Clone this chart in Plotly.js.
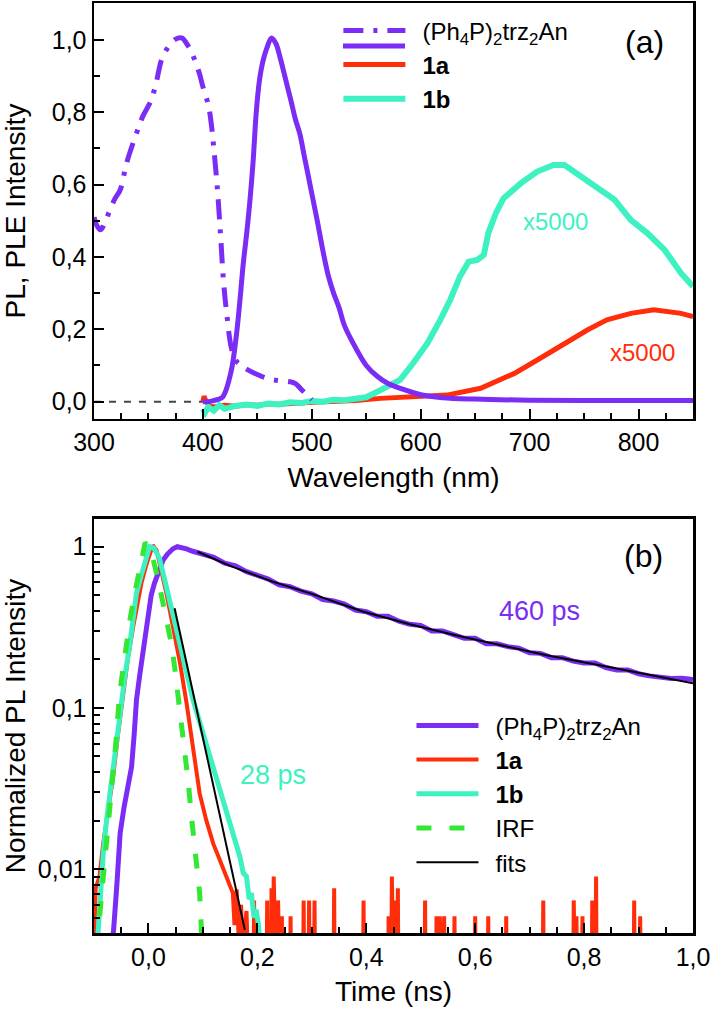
<!DOCTYPE html>
<html><head><meta charset="utf-8">
<script src="https://cdn.plot.ly/plotly-3.0.1.min.js"></script>
<style>html,body{margin:0;padding:0;background:#fff}</style>
</head><body><div id="chart" style="width:713px;height:1013px"></div>
<script>
// ---------- Panel (a): PL / PLE spectra ----------
const wlPLE = [300,303,306,310,314,319,324,330,339,345,352,357,362,367,372,377,381,385,389,393,397,400,405,408,410,413,416,419,422,426,430,435,440,450,460,470,480,485,490,495,500];
const ple   = [0.51,0.485,0.475,0.495,0.525,0.56,0.585,0.66,0.742,0.79,0.83,0.88,0.945,0.975,0.995,1.005,1.005,0.99,0.97,0.94,0.905,0.87,0.82,0.76,0.70,0.60,0.47,0.33,0.24,0.15,0.115,0.10,0.09,0.075,0.063,0.058,0.055,0.05,0.035,0.02,0.005];

const wlPL = [400,405,410,414,418,421,424,427,431,434,437,440,443,446,449,452,455,459,463,467,471,476,481,485,489,493,497,500,505,510,515,520,525,530,540,550,560,570,580,590,600,620,650,700,750,800,850];
const pl   = [0.0,0.0,0.003,0.006,0.012,0.03,0.06,0.10,0.19,0.28,0.38,0.46,0.55,0.66,0.80,0.89,0.94,0.98,1.005,0.99,0.95,0.89,0.83,0.78,0.74,0.68,0.62,0.575,0.50,0.42,0.35,0.30,0.26,0.21,0.15,0.10,0.07,0.05,0.038,0.028,0.019,0.011,0.007,0.004,0.003,0.003,0.003];

const wl1b = [400,402,405,410,415,420,430,440,450,460,470,480,490,500,510,520,530,540,550,563,572,581,593,606,618,627,636,644,652,658,662,669,676,692,707,722,732,747,762,778,793,808,824,839,850];
const pl1b = [-0.02,-0.03,-0.015,-0.025,-0.01,-0.02,-0.012,-0.008,-0.012,-0.005,-0.008,-0.002,-0.004,0.002,0.0,0.005,0.004,0.008,0.012,0.032,0.045,0.06,0.106,0.161,0.226,0.281,0.346,0.387,0.392,0.406,0.466,0.521,0.562,0.604,0.636,0.654,0.654,0.622,0.594,0.558,0.502,0.466,0.419,0.355,0.318];

const wl1a = [400,401,403,406,410,420,430,440,450,460,470,480,490,500,520,540,563,590,624,655,686,707,732,753,771,793,814,839,850];
const pl1a = [0.0,0.015,0.0,-0.012,-0.015,-0.01,-0.013,-0.008,-0.01,-0.006,-0.007,-0.004,-0.004,-0.002,0.0,0.003,0.009,0.012,0.018,0.037,0.078,0.115,0.161,0.198,0.226,0.244,0.254,0.244,0.235];

const zeroX = [300,400];
const zeroY = [0,0];

// ---------- Panel (b): PL decays ----------
const tPh = [-0.07,-0.064,-0.058,-0.052,-0.045,-0.038,-0.031,-0.026,-0.022,-0.016,-0.01,-0.006,0.0,0.005,0.011,0.018,0.027,0.035,0.045,0.053,0.062,0.07,0.08,0.09,
  0.10,0.12,0.14,0.16,0.18,0.20,0.22,0.24,0.26,0.28,0.30,0.32,0.34,0.36,0.38,0.40,0.42,0.44,0.46,0.48,0.50,0.52,0.54,0.56,0.58,0.60,0.62,0.64,0.66,0.68,0.70,0.72,0.74,0.76,0.78,0.80,0.82,0.84,0.86,0.88,0.90,0.92,0.94,0.96,0.98,1.00];
const yPh = [0.003,0.0042,0.008,0.0167,0.024,0.032,0.043,0.07,0.112,0.16,0.22,0.29,0.40,0.50,0.593,0.70,0.827,0.90,0.97,1.0,0.99,0.97,0.94,0.92,
  0.91,0.86,0.79,0.76,0.70,0.67,0.63,0.58,0.565,0.53,0.51,0.47,0.46,0.44,0.405,0.395,0.37,0.37,0.345,0.33,0.325,0.30,0.30,0.285,0.27,0.27,0.25,0.25,0.24,0.235,0.22,0.218,0.205,0.205,0.195,0.19,0.19,0.178,0.172,0.172,0.163,0.158,0.155,0.152,0.153,0.15];

const t1a = [-0.1,-0.097,-0.09,-0.083,-0.075,-0.065,-0.056,-0.047,-0.038,-0.028,-0.02,-0.013,-0.004,0.003,0.008,0.015,0.024,0.033,0.045,0.057,0.07,0.082,0.094,0.106,0.119,0.131,0.143,0.155,0.158,0.162,0.166,0.17,0.174,0.18,0.184];
const y1a = [0.003,0.0076,0.009,0.0145,0.022,0.037,0.068,0.123,0.2,0.319,0.45,0.593,0.77,0.92,1.02,0.95,0.7,0.514,0.319,0.198,0.107,0.0548,0.0295,0.0202,0.0144,0.0114,0.009,0.0071,0.0045,0.0075,0.0035,0.006,0.003,0.0055,0.002];
// sparse photon-count spikes of 1a at long delays (time, height)
const spikeT = [0.194,0.218,0.226,0.230,0.238,0.245,0.261,0.285,0.295,0.305,0.341,0.395,0.441,0.447,0.453,0.458,0.508,0.529,0.535,0.543,0.562,0.600,0.624,0.657,0.725,0.781,0.786,0.797,0.815,0.822,0.892,0.903];
const spikeH = [0.0064,0.0064,0.0076,0.009,0.0064,0.0051,0.0051,0.0064,0.0064,0.0064,0.0076,0.0064,0.0051,0.009,0.0064,0.0076,0.0064,0.0051,0.0051,0.0051,0.0051,0.0051,0.0051,0.0051,0.0064,0.0064,0.0051,0.0051,0.0064,0.009,0.0064,0.0051];

const t1b = [-0.095,-0.09,-0.083,-0.077,-0.071,-0.062,-0.053,-0.043,-0.034,-0.028,-0.022,-0.014,-0.007,0.002,0.01,0.02,0.03,0.045,0.055,0.064,0.073,0.082,0.091,0.1,0.11,0.119,0.128,0.137,0.146,0.155,0.162,0.168,0.174,0.18,0.185,0.189,0.194,0.198,0.202,0.205];
const y1b = [0.003,0.006,0.0126,0.02,0.0295,0.052,0.097,0.16,0.251,0.36,0.514,0.65,0.79,1.0,0.98,0.85,0.62,0.368,0.27,0.198,0.15,0.112,0.088,0.0695,0.055,0.043,0.034,0.0268,0.021,0.0167,0.0135,0.0119,0.0095,0.009,0.0065,0.0071,0.005,0.0056,0.0045,0.003];

const tIRF = [-0.1,-0.0926,-0.086,-0.08,-0.074,-0.068,-0.06,-0.053,-0.043,-0.034,-0.026,-0.019,-0.012,-0.006,0.0,0.008,0.018,0.027,0.035,0.042,0.048,0.054,0.06,0.067,0.073,0.079,0.084,0.088,0.091,0.094,0.097,0.1];
const yIRF = [0.002,0.0044,0.007,0.0114,0.018,0.0295,0.06,0.123,0.22,0.351,0.5,0.652,0.85,1.06,1.0,0.85,0.62,0.446,0.33,0.251,0.18,0.123,0.085,0.0575,0.035,0.0211,0.015,0.0114,0.0085,0.0071,0.0044,0.002];

const tFit = [0.09,0.15,0.228,0.30,0.395,0.48,0.562,0.65,0.729,0.85,1.0, null, 0.048,0.177];
const yFit = [0.93,0.76,0.607,0.51,0.395,0.33,0.283,0.245,0.213,0.178,0.142, null, 0.415,0.0042];

const yTickVals = [0.01,0.1,1];
const yTickText = ['0,01','0,1','1'];

// ---------- styling ----------
const PURPLE = '#7b2cf5', RED = '#ff2d0a', TEAL = '#3df2c0', GREEN = '#33e833';
const FONT = 'Liberation Sans, Arial, sans-serif';
const GAP = '\u2002';
const NAME_PH = GAP + '(Ph<sub>4</sub>P)<sub>2</sub>trz<sub>2</sub>An';
const BELOW = 0.001;

// build the 1a trace with its spikes
const t1aAll = t1a.slice(), y1aAll = y1a.slice();
spikeT.forEach((t, i) => { t1aAll.push(t - 0.0015, t, t + 0.0015); y1aAll.push(BELOW, spikeH[i], BELOW); });

const traces = [
  {x: zeroX, y: zeroY, xaxis:'x', yaxis:'y', mode:'lines', line:{color:'#3b4a52', width:2, dash:'7px,8px'}, showlegend:false, hoverinfo:'skip'},
  {x: wl1a, y: pl1a, xaxis:'x', yaxis:'y', mode:'lines', name:GAP+'<b>1a</b>', legend:'legend', legendrank:2, showlegend:true, line:{color:RED, width:5}},
  {x: wl1b, y: pl1b, xaxis:'x', yaxis:'y', mode:'lines', name:GAP+'<b>1b</b>', legend:'legend', legendrank:3, showlegend:true, line:{color:TEAL, width:6}},
  {x: wlPLE, y: ple, xaxis:'x', yaxis:'y', mode:'lines', name:NAME_PH, legend:'legend', legendrank:1, showlegend:true, line:{color:PURPLE, width:5, dash:'20px,10px,4px,10px', shape:'spline'}},
  {x: wlPL, y: pl, xaxis:'x', yaxis:'y', mode:'lines', name:NAME_PH, showlegend:false, line:{color:PURPLE, width:5, shape:'spline'}},

  {x: tPh, y: yPh, xaxis:'x2', yaxis:'y2', mode:'lines', name:NAME_PH, legend:'legend2', legendrank:1, showlegend:true, line:{color:PURPLE, width:5}},
  {x: t1aAll, y: y1aAll, xaxis:'x2', yaxis:'y2', mode:'lines', name:GAP+'<b>1a</b>', legend:'legend2', legendrank:2, showlegend:true, line:{color:RED, width:4}},
  {x: t1b, y: y1b, xaxis:'x2', yaxis:'y2', mode:'lines', name:GAP+'<b>1b</b>', legend:'legend2', legendrank:3, showlegend:true, line:{color:TEAL, width:5}},
  {x: tIRF, y: yIRF, xaxis:'x2', yaxis:'y2', mode:'lines', name:GAP+'IRF', legend:'legend2', legendrank:4, showlegend:true, line:{color:GREEN, width:5, dash:'15px,18px'}},
  {x: tFit, y: yFit, xaxis:'x2', yaxis:'y2', mode:'lines', name:GAP+'fits', legend:'legend2', legendrank:5, showlegend:true, connectgaps:false, line:{color:'#000', width:2}}
];

const axCommon = {
  showline:true, linecolor:'#000', linewidth:2.5, mirror:true,
  ticks:'inside', ticklen:10, tickwidth:2, tickcolor:'#000',
  showgrid:false, zeroline:false, automargin:false,
  tickfont:{family:FONT, size:25, color:'#000'},
  minor:{ticks:'inside', ticklen:6, tickwidth:2, tickcolor:'#000', showgrid:false}
};

const legCommon = {font:{family:FONT, size:24, color:'#000'}, bgcolor:'rgba(0,0,0,0)', borderwidth:0,
  xanchor:'left', yanchor:'top', itemclick:false, itemdoubleclick:false, tracegroupgap:0, itemwidth:62};

const layout = {
  width:713, height:1013,
  showlegend:true,
  margin:{l:94, r:20, t:3, b:80},
  paper_bgcolor:'#fff', plot_bgcolor:'#fff',
  separators:',.',
  font:{family:FONT, color:'#000'},
  xaxis: Object.assign({}, axCommon, {domain:[0,1], anchor:'y', range:[300,850], tick0:300, dtick:100,
    minor:Object.assign({}, axCommon.minor, {dtick:25}),
    title:{text:'Wavelength (nm)', font:{family:FONT, size:28}, standoff:12}}),
  yaxis: Object.assign({}, axCommon, {domain:[0.5527,1], anchor:'x', range:[-0.048,1.102], tick0:0, dtick:0.2, tickformat:'.1f',
    minor:Object.assign({}, axCommon.minor, {dtick:0.1}),
    title:{text:'PL, PLE Intensity', font:{family:FONT, size:28}, standoff:18}}),
  xaxis2: Object.assign({}, axCommon, {domain:[0,1], anchor:'y2', range:[-0.1,1.0], tick0:0, dtick:0.2, tickformat:'.1f',
    minor:Object.assign({}, axCommon.minor, {dtick:0.05}),
    title:{text:'Time (ns)', font:{family:FONT, size:28}, standoff:12}}),
  yaxis2: Object.assign({}, axCommon, {domain:[0,0.4452], anchor:'x2', type:'log', range:[-2.396,0.172],
    tickmode:'array', tickvals:yTickVals, ticktext:yTickText,
    minor:Object.assign({}, axCommon.minor, {dtick:'D1'}),
    title:{text:'Normalized PL Intensity', font:{family:FONT, size:28}, standoff:18}}),
  legend: Object.assign({}, legCommon, {x:0.408, y:0.9943}),
  legend2: Object.assign({}, legCommon, {x:0.53, y:0.247}),
  // solid-line sample of the PL curve, shown beneath the dash-dot PLE sample in legend (a)
  shapes: [
    {type:'line', xref:'paper', yref:'paper', x0:0.4157, x1:0.5192, y0:0.9538, y1:0.9538, line:{color:PURPLE, width:5}}
  ],
  annotations: [
    {xref:'x', yref:'y', x:805.7, y:0.994, text:'(a)', showarrow:false, font:{family:FONT, size:32, color:'#000'}},
    {xref:'x', yref:'y', x:723.8, y:0.498, text:'x5000', showarrow:false, font:{family:FONT, size:24, color:TEAL}},
    {xref:'x', yref:'y', x:803.6, y:0.135, text:'x5000', showarrow:false, font:{family:FONT, size:24, color:RED}},
    {xref:'x2', yref:'y2', x:0.91, y:Math.log10(0.875), text:'(b)', showarrow:false, font:{family:FONT, size:32, color:'#000'}},
    {xref:'x2', yref:'y2', x:0.719, y:Math.log10(0.40), text:'460 ps', showarrow:false, font:{family:FONT, size:27, color:PURPLE}},
    {xref:'x2', yref:'y2', x:0.228, y:Math.log10(0.0383), text:'28 ps', showarrow:false, font:{family:FONT, size:27, color:TEAL}}
  ]
};

Plotly.newPlot('chart', traces, layout, {staticPlot:true, displayModeBar:false});
</script></body></html>
